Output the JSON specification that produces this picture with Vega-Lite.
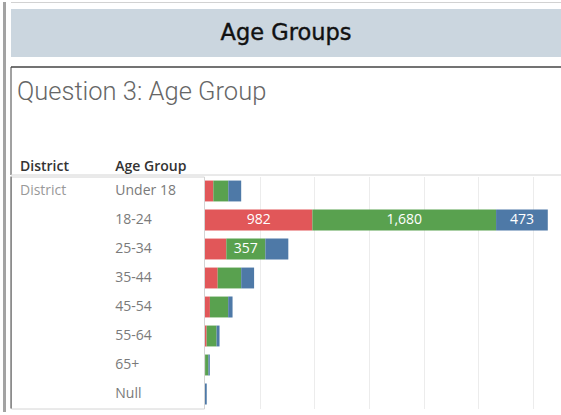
{
  "$schema": "https://vega.github.io/schema/vega-lite/v6.json",
  "padding": {"left": 3, "top": 2, "right": 0, "bottom": 0},
  "background": "white",
  "config": {"view": {"stroke": null}, "font": "Open Sans"},
  "datasets": {
    "values": [
      {"age": "Under 18", "series": "Series A", "value": 76},
      {"age": "Under 18", "series": "Series B", "value": 137},
      {"age": "Under 18", "series": "Series C", "value": 118},
      {"age": "18-24", "series": "Series A", "value": 982},
      {"age": "18-24", "series": "Series B", "value": 1680},
      {"age": "18-24", "series": "Series C", "value": 473},
      {"age": "25-34", "series": "Series A", "value": 195},
      {"age": "25-34", "series": "Series B", "value": 357},
      {"age": "25-34", "series": "Series C", "value": 210},
      {"age": "35-44", "series": "Series A", "value": 116},
      {"age": "35-44", "series": "Series B", "value": 215},
      {"age": "35-44", "series": "Series C", "value": 118},
      {"age": "45-54", "series": "Series A", "value": 45},
      {"age": "45-54", "series": "Series B", "value": 167},
      {"age": "45-54", "series": "Series C", "value": 40},
      {"age": "55-64", "series": "Series A", "value": 15},
      {"age": "55-64", "series": "Series B", "value": 91},
      {"age": "55-64", "series": "Series C", "value": 27},
      {"age": "65+", "series": "Series A", "value": 1},
      {"age": "65+", "series": "Series B", "value": 30},
      {"age": "65+", "series": "Series C", "value": 13},
      {"age": "Null", "series": "Series C", "value": 16}
    ],
    "rows": [
      {"col": "District", "age": "Under 18", "label": "District"},
      {"col": "Age Group", "age": "Under 18", "label": "Under 18"},
      {"col": "Age Group", "age": "18-24", "label": "18-24"},
      {"col": "Age Group", "age": "25-34", "label": "25-34"},
      {"col": "Age Group", "age": "35-44", "label": "35-44"},
      {"col": "Age Group", "age": "45-54", "label": "45-54"},
      {"col": "Age Group", "age": "55-64", "label": "55-64"},
      {"col": "Age Group", "age": "65+", "label": "65+"},
      {"col": "Age Group", "age": "Null", "label": "Null"}
    ],
    "headers": [
      {"kind": "title", "col": "District", "label": "Question 3: Age Group"},
      {"kind": "header", "col": "District", "label": "District"},
      {"kind": "header", "col": "Age Group", "label": "Age Group"}
    ]
  },
  "spacing": 4,
  "hconcat": [
    {
      "width": 3,
      "height": 410,
      "view": {"fill": "#a3a3a3", "stroke": null},
      "data": {"values": []},
      "mark": "point"
    },
    {
      "spacing": 6,
      "vconcat": [
        {
          "width": 550,
          "height": 1,
          "view": {"fill": "#d2d2d2", "stroke": null},
          "data": {"values": []},
          "mark": "point"
        },
        {
          "spacing": 9,
          "vconcat": [
            {
              "width": 550,
              "height": 48,
              "view": {"fill": "#cbd6df", "stroke": null},
              "data": {"values": [{"label": "Age Groups"}]},
              "mark": {"type": "text", "fontSize": 22.5, "fontWeight": "normal", "color": "#111111", "stroke": "#111111", "strokeWidth": 0.4, "font": "DejaVu Sans"},
              "encoding": {"text": {"field": "label", "type": "nominal"}}
            },
            {
              "spacing": -0.5,
              "vconcat": [
                {
                  "width": 550,
                  "height": 108,
                  "view": {"stroke": null, "fill": "white"},
                  "data": {"name": "headers"},
                  "resolve": {"scale": {"y": "independent"}},
                  "layer": [
                    {
                      "transform": [{"filter": "datum.kind === 'title'"}],
                      "mark": {"type": "text", "align": "left", "baseline": "alphabetic", "dx": 6, "fontSize": 25.5, "fontWeight": 300, "color": "#666666", "font": "Roboto"},
                      "encoding": {
                        "x": {"field": "col", "type": "nominal",
                              "scale": {"type": "point", "domain": ["District", "Age Group", "c3", "c4", "c5"], "padding": 0.886, "align": 0},
                              "axis": null},
                        "y": {"field": "kind", "type": "nominal",
                              "scale": {"type": "point", "domain": ["title", "header"], "padding": 0.266, "align": 0.893},
                              "axis": null},
                        "text": {"field": "label", "type": "nominal"}
                      }
                    },
                    {
                      "transform": [{"filter": "datum.kind === 'header'"}],
                      "mark": {"type": "text", "align": "left", "baseline": "alphabetic", "dx": 9, "fontSize": 14, "fontWeight": 600, "color": "#333333"},
                      "encoding": {
                        "x": {"field": "col", "type": "nominal", "axis": null},
                        "y": {"field": "kind", "type": "nominal",
                              "scale": {"type": "point", "domain": ["title", "header"], "padding": 0.266, "align": 0.893},
                              "axis": null},
                        "text": {"field": "label", "type": "nominal"}
                      }
                    },
                    {
                      "transform": [{"filter": "datum.kind === 'title'"}],
                      "mark": {"type": "rule", "color": "#444444", "strokeWidth": 1},
                      "encoding": {
                        "x": {"field": "col", "type": "nominal", "axis": null}
                      }
                    },
                    {
                      "transform": [{"filter": "datum.kind === 'title'"}],
                      "mark": {"type": "rule", "color": "#444444", "strokeWidth": 1.3},
                      "encoding": {
                        "y": {"datum": 1, "type": "quantitative", "scale": {"domain": [0, 1], "nice": false}, "axis": null}
                      }
                    },
                    {
                      "transform": [{"filter": "datum.kind === 'title'"}],
                      "mark": {"type": "rule", "color": "#d4d4d4", "strokeWidth": 1},
                      "encoding": {
                        "y": {"datum": 0, "type": "quantitative", "scale": {"domain": [0, 1], "nice": false}, "axis": null}
                      }
                    }
                  ]
                },
                {
                  "spacing": 0,
                  "hconcat": [
                    {
                      "width": 193,
                      "height": 232,
                      "view": {"stroke": "#d4d4d4"},
                      "data": {"name": "rows"},
                      "encoding": {
                        "x": {"field": "col", "type": "nominal",
                              "scale": {"type": "point", "domain": ["District", "Age Group"], "padding": 0.5126, "align": 0},
                              "axis": null},
                        "y": {"field": "age", "type": "nominal",
                              "scale": {"domain": ["Under 18", "18-24", "25-34", "35-44", "45-54", "55-64", "65+", "Null"], "paddingInner": 0.28, "paddingOuter": 0.14},
                              "axis": null},
                        "text": {"field": "label", "type": "nominal"}
                      },
                      "layer": [
                        {
                          "transform": [{"filter": "datum.col === 'District'"}],
                          "mark": {"type": "text", "align": "left", "dx": 9, "fontSize": 14, "color": "#999999"}
                        },
                        {
                          "transform": [{"filter": "datum.col === 'Age Group'"}],
                          "mark": {"type": "text", "align": "left", "dx": 9, "fontSize": 14, "color": "#7a7a7a"}
                        },
                        {
                          "transform": [{"filter": "datum.col === 'District'"}],
                          "mark": {"type": "rule", "color": "#444444", "strokeWidth": 1},
                          "encoding": {"x": {"field": "col", "type": "nominal"}, "y": null, "text": null}
                        }
                      ]
                    },
                    {
                      "width": 357,
                      "height": 232,
                      "view": {"stroke": null},
                      "data": {"name": "values"},
                      "encoding": {
                        "y": {"field": "age", "type": "nominal",
                              "scale": {"domain": ["Under 18", "18-24", "25-34", "35-44", "45-54", "55-64", "65+", "Null"], "paddingInner": 0.28, "paddingOuter": 0.14},
                              "axis": null}
                      },
                      "layer": [
                        {
                          "mark": {"type": "bar"},
                          "encoding": {
                            "x": {"field": "value", "type": "quantitative", "stack": "zero",
                                  "scale": {"domain": [0, 3265], "nice": false, "zero": true},
                                  "axis": {"values": [500, 1000, 1500, 2000, 2500, 3000], "grid": true, "gridColor": "#ececec", "labels": false, "ticks": false, "domain": false, "title": null}},
                            "color": {"field": "series", "type": "nominal",
                                      "scale": {"domain": ["Series A", "Series B", "Series C"], "range": ["#e15759", "#59a14f", "#4e79a7"]},
                                      "legend": null},
                            "order": {"field": "series", "type": "nominal"}
                          }
                        },
                        {
                          "transform": [
                            {"stack": "value", "groupby": ["age"], "sort": [{"field": "series", "order": "ascending"}], "as": ["x0", "x1"]},
                            {"filter": "datum.value >= 350"},
                            {"fold": ["x0", "x1"], "as": ["edge", "pos"]}
                          ],
                          "mark": {"type": "text", "color": "white", "fontSize": 14},
                          "encoding": {
                            "x": {"aggregate": "mean", "field": "pos", "type": "quantitative"},
                            "detail": {"field": "series", "type": "nominal"},
                            "text": {"aggregate": "max", "field": "value", "type": "quantitative", "format": ","}
                          }
                        }
                      ]
                    }
                  ]
                }
              ]
            }
          ]
        }
      ]
    }
  ]
}
